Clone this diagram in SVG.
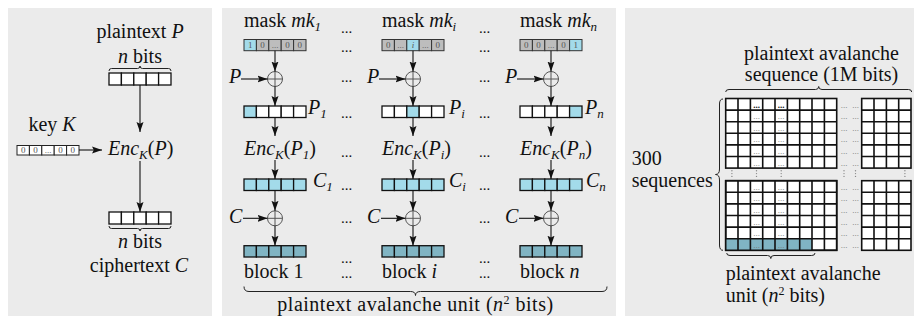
<svg xmlns="http://www.w3.org/2000/svg" width="922" height="322" viewBox="0 0 922 322">
<style>
.panel{fill:#ebebeb}
.t{font-family:"Liberation Serif",serif;font-size:20px;fill:#111}
.e{font-family:"Liberation Serif",serif;font-size:15px;fill:#111;text-anchor:middle}
.m{text-anchor:middle}
.i{font-style:italic}
.sub{font-size:13px;font-style:italic}
.sup{font-size:12px}
.cell{fill:#fff;stroke:#111;stroke-width:1.3}
.mc{fill:#bdbdbd;stroke:#333;stroke-width:1}
.kc{fill:#fff;stroke:#222;stroke-width:1}
.blue{fill:#a3dbea;stroke:#111;stroke-width:1.3}
.blue2{fill:#a3dbea;stroke:#333;stroke-width:1}
.teal{fill:#80b4c3;stroke:#111;stroke-width:1.3}
.dg{font-family:"Liberation Serif",serif;font-size:9px;fill:#555;text-anchor:middle}
.arr{stroke:#111;stroke-width:1.1;fill:none;marker-end:url(#ah)}
.brace{fill:none;stroke:#222;stroke-width:1}
.xor{fill:none;stroke:#555;stroke-width:1}
.grid{fill:#fff;stroke:#111;stroke-width:1.6}
.gl{fill:none;stroke:#111;stroke-width:1.6}
.gd{font-family:"Liberation Serif",serif;font-size:9px;fill:#777;text-anchor:middle}
.gdb{font-family:"Liberation Serif",serif;font-size:9px;fill:#111;font-weight:bold;text-anchor:middle}
.vd{fill:#888}
</style>
<defs>
<marker id="ah" viewBox="0 0 10 8" refX="10" refY="4" markerWidth="10" markerHeight="8" markerUnits="userSpaceOnUse" orient="auto"><path d="M0,0.5 L10,4 L0,7.5 L1.8,4 z" fill="#111"/></marker>
</defs>

<!-- panels -->
<rect class="panel" x="8" y="8" width="204" height="308"/>
<rect class="panel" x="222" y="8" width="394" height="308"/>
<rect class="panel" x="625" y="8" width="289" height="308"/>

<!-- ===== single block encryption ===== -->
<g id="plaintext">
<text class="t m" x="140" y="38">plaintext <tspan class="i">P</tspan></text>
<text class="t m" x="140" y="63"><tspan class="i">n</tspan> bits</text>
<path class="brace" d="M109,71 Q109,68.5 111.5,68.5 L137.5,68.5 Q140,68.5 140,66 Q140,68.5 142.5,68.5 L168.5,68.5 Q171,68.5 171,71"/>
<rect class="cell" x="109" y="73" width="12.4" height="12"/><rect class="cell" x="121.4" y="73" width="12.4" height="12"/><rect class="cell" x="133.8" y="73" width="12.4" height="12"/><rect class="cell" x="146.2" y="73" width="12.4" height="12"/><rect class="cell" x="158.6" y="73" width="12.4" height="12"/>
</g>
<g id="key">
<text class="t m" x="52" y="131">key <tspan class="i">K</tspan></text>
<rect class="kc" x="17" y="145.5" width="12.4" height="9.5"/><rect class="kc" x="29.4" y="145.5" width="12.4" height="9.5"/><rect class="kc" x="41.8" y="145.5" width="12.4" height="9.5"/><rect class="kc" x="54.2" y="145.5" width="12.4" height="9.5"/><rect class="kc" x="66.6" y="145.5" width="12.4" height="9.5"/>
<text class="dg" x="23.2" y="153.3">0</text><text class="dg" x="35.6" y="153.3">0</text><text class="dg" x="48" y="153.3">...</text><text class="dg" x="60.4" y="153.3">0</text><text class="dg" x="72.8" y="153.3">0</text>
</g>
<g id="enc">
<text class="t" x="108" y="155"><tspan class="i">Enc</tspan><tspan class="sub" dy="4">K</tspan><tspan dy="-4">(</tspan><tspan class="i">P</tspan>)</text>
</g>
<g id="ciphertext">
<rect class="cell" x="109" y="212" width="12.4" height="12"/><rect class="cell" x="121.4" y="212" width="12.4" height="12"/><rect class="cell" x="133.8" y="212" width="12.4" height="12"/><rect class="cell" x="146.2" y="212" width="12.4" height="12"/><rect class="cell" x="158.6" y="212" width="12.4" height="12"/>
<path class="brace" d="M109,226 Q109,228.5 111.5,228.5 L137.5,228.5 Q140,228.5 140,231 Q140,228.5 142.5,228.5 L168.5,228.5 Q171,228.5 171,226"/>
<text class="t m" x="140" y="248"><tspan class="i">n</tspan> bits</text>
<text class="t m" x="139" y="272">ciphertext <tspan class="i">C</tspan></text>
</g>

<!-- ===== avalanche unit: column 1 ===== -->
<g id="mask1">
<text class="t" x="244" y="27">mask <tspan class="i">mk</tspan><tspan class="sub" dy="4">1</tspan></text>
<rect class="blue2" x="244" y="39.5" width="12.4" height="11.2"/><rect class="mc" x="256.4" y="39.5" width="12.4" height="11.2"/><rect class="mc" x="268.8" y="39.5" width="12.4" height="11.2"/><rect class="mc" x="281.2" y="39.5" width="12.4" height="11.2"/><rect class="mc" x="293.6" y="39.5" width="12.4" height="11.2"/>
<text class="dg" x="250.2" y="48.3">1</text><text class="dg" x="262.6" y="48.3">0</text><text class="dg" x="275" y="48.3">...</text><text class="dg" x="287.4" y="48.3">0</text><text class="dg" x="299.8" y="48.3">0</text>
</g>
<g id="xorp1">
<circle class="xor" cx="275" cy="79" r="7.5"/><path class="xor" d="M267.5,79H282.5M275,71.5V86.5"/>
<text class="t" x="229" y="83"><tspan class="i">P</tspan></text>
</g>
<g id="p1">
<rect class="blue" x="244" y="106" width="12.4" height="11.5"/><rect class="cell" x="256.4" y="106" width="12.4" height="11.5"/><rect class="cell" x="268.8" y="106" width="12.4" height="11.5"/><rect class="cell" x="281.2" y="106" width="12.4" height="11.5"/><rect class="cell" x="293.6" y="106" width="12.4" height="11.5"/>
<text class="t" x="308" y="114"><tspan class="i">P</tspan><tspan class="sub" dy="4">1</tspan></text>
</g>
<g id="enc1">
<text class="t" x="244" y="155"><tspan class="i">Enc</tspan><tspan class="sub" dy="4">K</tspan><tspan dy="-4">(</tspan><tspan class="i">P</tspan><tspan class="sub" dy="4">1</tspan><tspan dy="-4">)</tspan></text>
</g>
<g id="c1">
<rect class="blue" x="244" y="179" width="12.4" height="11.5"/><rect class="blue" x="256.4" y="179" width="12.4" height="11.5"/><rect class="blue" x="268.8" y="179" width="12.4" height="11.5"/><rect class="blue" x="281.2" y="179" width="12.4" height="11.5"/><rect class="blue" x="293.6" y="179" width="12.4" height="11.5"/>
<text class="t" x="313" y="187"><tspan class="i">C</tspan><tspan class="sub" dy="4">1</tspan></text>
</g>
<g id="xorc1">
<circle class="xor" cx="275" cy="218.3" r="7.5"/><path class="xor" d="M267.5,218.3H282.5M275,210.8V225.8"/>
<text class="t" x="229" y="223"><tspan class="i">C</tspan></text>
</g>
<g id="block1">
<rect class="teal" x="244" y="245.7" width="12.4" height="11.3"/><rect class="teal" x="256.4" y="245.7" width="12.4" height="11.3"/><rect class="teal" x="268.8" y="245.7" width="12.4" height="11.3"/><rect class="teal" x="281.2" y="245.7" width="12.4" height="11.3"/><rect class="teal" x="293.6" y="245.7" width="12.4" height="11.3"/>
<text class="t" x="244" y="278">block 1</text>
</g>

<!-- column i -->
<g id="maski">
<text class="t" x="382" y="27">mask <tspan class="i">mk</tspan><tspan class="sub" dy="4">i</tspan></text>
<rect class="mc" x="382" y="39.5" width="12.4" height="11.2"/><rect class="mc" x="394.4" y="39.5" width="12.4" height="11.2"/><rect class="blue2" x="406.8" y="39.5" width="12.4" height="11.2"/><rect class="mc" x="419.2" y="39.5" width="12.4" height="11.2"/><rect class="mc" x="431.6" y="39.5" width="12.4" height="11.2"/>
<text class="dg" x="388.2" y="48.3">0</text><text class="dg" x="400.6" y="48.3">...</text><text class="dg" x="413" y="48.3" font-style="italic">i</text><text class="dg" x="425.4" y="48.3">...</text><text class="dg" x="437.8" y="48.3">0</text>
</g>
<g id="xorpi">
<circle class="xor" cx="413" cy="79" r="7.5"/><path class="xor" d="M405.5,79H420.5M413,71.5V86.5"/>
<text class="t" x="367" y="83"><tspan class="i">P</tspan></text>
</g>
<g id="pi">
<rect class="cell" x="382" y="106" width="12.4" height="11.5"/><rect class="cell" x="394.4" y="106" width="12.4" height="11.5"/><rect class="blue" x="406.8" y="106" width="12.4" height="11.5"/><rect class="cell" x="419.2" y="106" width="12.4" height="11.5"/><rect class="cell" x="431.6" y="106" width="12.4" height="11.5"/>
<text class="t" x="449" y="114"><tspan class="i">P</tspan><tspan class="sub" dy="4">i</tspan></text>
</g>
<g id="enci">
<text class="t" x="382" y="155"><tspan class="i">Enc</tspan><tspan class="sub" dy="4">K</tspan><tspan dy="-4">(</tspan><tspan class="i">P</tspan><tspan class="sub" dy="4">i</tspan><tspan dy="-4">)</tspan></text>
</g>
<g id="ci">
<rect class="blue" x="382" y="179" width="12.4" height="11.5"/><rect class="blue" x="394.4" y="179" width="12.4" height="11.5"/><rect class="blue" x="406.8" y="179" width="12.4" height="11.5"/><rect class="blue" x="419.2" y="179" width="12.4" height="11.5"/><rect class="blue" x="431.6" y="179" width="12.4" height="11.5"/>
<text class="t" x="449" y="187"><tspan class="i">C</tspan><tspan class="sub" dy="4">i</tspan></text>
</g>
<g id="xorci">
<circle class="xor" cx="413" cy="218.3" r="7.5"/><path class="xor" d="M405.5,218.3H420.5M413,210.8V225.8"/>
<text class="t" x="367" y="223"><tspan class="i">C</tspan></text>
</g>
<g id="blocki">
<rect class="teal" x="382" y="245.7" width="12.4" height="11.3"/><rect class="teal" x="394.4" y="245.7" width="12.4" height="11.3"/><rect class="teal" x="406.8" y="245.7" width="12.4" height="11.3"/><rect class="teal" x="419.2" y="245.7" width="12.4" height="11.3"/><rect class="teal" x="431.6" y="245.7" width="12.4" height="11.3"/>
<text class="t" x="382" y="278">block <tspan class="i">i</tspan></text>
</g>

<!-- column n -->
<g id="maskn">
<text class="t" x="520" y="27">mask <tspan class="i">mk</tspan><tspan class="sub" dy="4">n</tspan></text>
<rect class="mc" x="520" y="39.5" width="12.4" height="11.2"/><rect class="mc" x="532.4" y="39.5" width="12.4" height="11.2"/><rect class="mc" x="544.8" y="39.5" width="12.4" height="11.2"/><rect class="mc" x="557.2" y="39.5" width="12.4" height="11.2"/><rect class="blue2" x="569.6" y="39.5" width="12.4" height="11.2"/>
<text class="dg" x="526.2" y="48.3">0</text><text class="dg" x="538.6" y="48.3">0</text><text class="dg" x="551" y="48.3">...</text><text class="dg" x="563.4" y="48.3">0</text><text class="dg" x="575.8" y="48.3">1</text>
</g>
<g id="xorpn">
<circle class="xor" cx="551" cy="79" r="7.5"/><path class="xor" d="M543.5,79H558.5M551,71.5V86.5"/>
<text class="t" x="505" y="83"><tspan class="i">P</tspan></text>
</g>
<g id="pn">
<rect class="cell" x="520" y="106" width="12.4" height="11.5"/><rect class="cell" x="532.4" y="106" width="12.4" height="11.5"/><rect class="cell" x="544.8" y="106" width="12.4" height="11.5"/><rect class="cell" x="557.2" y="106" width="12.4" height="11.5"/><rect class="blue" x="569.6" y="106" width="12.4" height="11.5"/>
<text class="t" x="585" y="114"><tspan class="i">P</tspan><tspan class="sub" dy="4">n</tspan></text>
</g>
<g id="encn">
<text class="t" x="520" y="155"><tspan class="i">Enc</tspan><tspan class="sub" dy="4">K</tspan><tspan dy="-4">(</tspan><tspan class="i">P</tspan><tspan class="sub" dy="4">n</tspan><tspan dy="-4">)</tspan></text>
</g>
<g id="cn">
<rect class="blue" x="520" y="179" width="12.4" height="11.5"/><rect class="blue" x="532.4" y="179" width="12.4" height="11.5"/><rect class="blue" x="544.8" y="179" width="12.4" height="11.5"/><rect class="blue" x="557.2" y="179" width="12.4" height="11.5"/><rect class="blue" x="569.6" y="179" width="12.4" height="11.5"/>
<text class="t" x="586" y="187"><tspan class="i">C</tspan><tspan class="sub" dy="4">n</tspan></text>
</g>
<g id="xorcn">
<circle class="xor" cx="551" cy="218.3" r="7.5"/><path class="xor" d="M543.5,218.3H558.5M551,210.8V225.8"/>
<text class="t" x="505" y="223"><tspan class="i">C</tspan></text>
</g>
<g id="blockn">
<rect class="teal" x="520" y="245.7" width="12.4" height="11.3"/><rect class="teal" x="532.4" y="245.7" width="12.4" height="11.3"/><rect class="teal" x="544.8" y="245.7" width="12.4" height="11.3"/><rect class="teal" x="557.2" y="245.7" width="12.4" height="11.3"/><rect class="teal" x="569.6" y="245.7" width="12.4" height="11.3"/>
<text class="t" x="520" y="278">block <tspan class="i">n</tspan></text>
</g>

<!-- ellipses between columns -->
<g id="column-gaps">
<text class="e" x="346.5" y="33">...</text><text class="e" x="484.5" y="33">...</text>
<text class="e" x="346.5" y="51.5">...</text><text class="e" x="484.5" y="51.5">...</text>
<text class="e" x="346.5" y="82">...</text><text class="e" x="484.5" y="82">...</text>
<text class="e" x="346.5" y="118">...</text><text class="e" x="484.5" y="118">...</text>
<text class="e" x="346.5" y="157">...</text><text class="e" x="484.5" y="157">...</text>
<text class="e" x="346.5" y="190">...</text><text class="e" x="484.5" y="190">...</text>
<text class="e" x="346.5" y="222.5">...</text><text class="e" x="484.5" y="222.5">...</text>
<text class="e" x="346.5" y="263">...</text><text class="e" x="484.5" y="263">...</text>
<text class="e" x="346.5" y="278">...</text><text class="e" x="484.5" y="278">...</text>
</g>

<g id="unit-label">
<path class="brace" d="M244,286.5 Q244,291.5 249,291.5 L410.5,291.5 Q415.5,291.5 415.5,295.5 Q415.5,291.5 420.5,291.5 L602,291.5 Q607,291.5 607,286.5"/>
<text class="t m" x="415.5" y="311" letter-spacing="0.5">plaintext avalanche unit (<tspan class="i">n</tspan><tspan class="sup" dy="-7">2</tspan><tspan dy="7"> bits)</tspan></text>
</g>

<!-- ===== avalanche sequence grid ===== -->
<g id="sequence-label">
<text class="t m" x="821.5" y="59.5">plaintext avalanche</text>
<text class="t m" x="821.5" y="80.5">sequence (1M bits)</text>
<path class="brace" d="M725.7,92 Q725.7,89.5 729,89.5 L815.5,89.5 Q818.7,89.5 818.7,86.5 Q818.7,89.5 822,89.5 L908.5,89.5 Q911.7,89.5 911.7,92"/>
</g>
<g id="sequences-label">
<text class="t" x="631.7" y="165">300</text>
<text class="t" x="631.7" y="187">sequences</text>
<path class="brace" d="M723,99 Q719.5,99 719.5,104 L719.5,169 Q719.5,174.5 715.5,174.5 Q719.5,174.5 719.5,180 L719.5,245 Q719.5,250.3 723,250.3"/>
</g>
<g id="grid">
<rect class="grid" x="725.7" y="98.5" width="111" height="69.6"/>
<rect class="grid" x="861.7" y="98.5" width="49.3" height="69.6"/>
<rect class="grid" x="725.7" y="180.7" width="111" height="69.6"/>
<rect class="grid" x="861.7" y="180.7" width="49.3" height="69.6"/>
<rect x="725.7" y="238.7" width="86.3" height="11.6" fill="#80b4c3"/>
<path class="gl" d="M738,98.5V168.1M750.4,98.5V168.1M762.7,98.5V168.1M775,98.5V168.1M787.4,98.5V168.1M799.7,98.5V168.1M812,98.5V168.1M824.4,98.5V168.1
M725.7,110.1H836.7M725.7,121.7H836.7M725.7,133.3H836.7M725.7,144.9H836.7M725.7,156.5H836.7
M738,180.7V250.3M750.4,180.7V250.3M762.7,180.7V250.3M775,180.7V250.3M787.4,180.7V250.3M799.7,180.7V250.3M812,180.7V250.3M824.4,180.7V250.3
M725.7,192.3H836.7M725.7,203.9H836.7M725.7,215.5H836.7M725.7,227.1H836.7M725.7,238.7H836.7
M874,98.5V168.1M886.4,98.5V168.1M898.7,98.5V168.1
M861.7,110.1H911M861.7,121.7H911M861.7,133.3H911M861.7,144.9H911M861.7,156.5H911
M874,180.7V250.3M886.4,180.7V250.3M898.7,180.7V250.3
M861.7,192.3H911M861.7,203.9H911M861.7,215.5H911M861.7,227.1H911M861.7,238.7H911"/>
<rect class="gl" x="725.7" y="180.7" width="111" height="69.6"/>
<text class="gdb" y="107.5"><tspan x="756.5">...</tspan><tspan x="781.2">...</tspan></text>
<text class="gd" y="107.5"><tspan x="844">...</tspan><tspan x="855.5">...</tspan></text>
<text class="gd" y="119.1"><tspan x="756.5">...</tspan><tspan x="781.2">...</tspan><tspan x="844">...</tspan><tspan x="855.5">...</tspan></text>
<text class="gd" y="130.7"><tspan x="756.5">...</tspan><tspan x="781.2">...</tspan><tspan x="844">...</tspan><tspan x="855.5">...</tspan></text>
<text class="gd" y="142.3"><tspan x="756.5">...</tspan><tspan x="781.2">...</tspan><tspan x="844">...</tspan><tspan x="855.5">...</tspan></text>
<text class="gd" y="153.9"><tspan x="756.5">...</tspan><tspan x="781.2">...</tspan><tspan x="844">...</tspan><tspan x="855.5">...</tspan></text>
<text class="gd" y="165.5"><tspan x="756.5">...</tspan><tspan x="781.2">...</tspan><tspan x="844">...</tspan><tspan x="855.5">...</tspan></text>
<text class="gd" y="189.7"><tspan x="756.5">...</tspan><tspan x="781.2">...</tspan><tspan x="844">...</tspan><tspan x="855.5">...</tspan></text>
<text class="gd" y="201.3"><tspan x="756.5">...</tspan><tspan x="781.2">...</tspan><tspan x="844">...</tspan><tspan x="855.5">...</tspan></text>
<text class="gd" y="212.9"><tspan x="756.5">...</tspan><tspan x="781.2">...</tspan><tspan x="844">...</tspan><tspan x="855.5">...</tspan></text>
<text class="gd" y="224.5"><tspan x="756.5">...</tspan><tspan x="781.2">...</tspan><tspan x="844">...</tspan><tspan x="855.5">...</tspan></text>
<text class="gd" y="236.1"><tspan x="756.5">...</tspan><tspan x="781.2">...</tspan><tspan x="844">...</tspan><tspan x="855.5">...</tspan></text>
<text class="gd" y="247.7"><tspan x="756.5">...</tspan><tspan x="781.2">...</tspan><tspan x="844">...</tspan><tspan x="855.5">...</tspan></text>
<!-- vertical ellipses between the two row blocks -->
<g class="vd">
<circle cx="731.9" cy="170.8" r="0.7"/><circle cx="731.9" cy="173.6" r="0.7"/><circle cx="731.9" cy="176.4" r="0.7"/>
<circle cx="756.5" cy="170.8" r="0.7"/><circle cx="756.5" cy="173.6" r="0.7"/><circle cx="756.5" cy="176.4" r="0.7"/>
<circle cx="781.2" cy="170.8" r="0.7"/><circle cx="781.2" cy="173.6" r="0.7"/><circle cx="781.2" cy="176.4" r="0.7"/>
<circle cx="844" cy="170.8" r="0.7"/><circle cx="844" cy="173.6" r="0.7"/><circle cx="844" cy="176.4" r="0.7"/>
<circle cx="855.5" cy="170.8" r="0.7"/><circle cx="855.5" cy="173.6" r="0.7"/><circle cx="855.5" cy="176.4" r="0.7"/>
<circle cx="904.9" cy="170.8" r="0.7"/><circle cx="904.9" cy="173.6" r="0.7"/><circle cx="904.9" cy="176.4" r="0.7"/>
</g>
</g>
<g id="unit-in-grid-label">
<path class="brace" d="M726.7,253 Q726.7,255.5 730,255.5 L767.5,255.5 Q770.8,255.5 770.8,258.5 Q770.8,255.5 774,255.5 L811.7,255.5 Q815,255.5 815,253"/>
<text class="t" x="725.7" y="280">plaintext avalanche</text>
<text class="t" x="725.7" y="302">unit (<tspan class="i">n</tspan><tspan class="sup" dy="-7">2</tspan><tspan dy="7"> bits)</tspan></text>
</g>

<!-- connectors -->
<g id="connectors">
<path class="arr" d="M140,85V132"/>
<path class="arr" d="M79,150H102"/>
<path class="arr" d="M140,161V212"/>
<path class="arr" d="M275,50.7V71.5"/><path class="arr" d="M241,79H267.5"/><path class="arr" d="M275,86.5V106"/><path class="arr" d="M275,117.5V136"/><path class="arr" d="M275,160V179"/><path class="arr" d="M275,190.5V210.8"/><path class="arr" d="M243,218.3H267.5"/><path class="arr" d="M275,225.8V245.7"/>
<path class="arr" d="M413,50.7V71.5"/><path class="arr" d="M379,79H405.5"/><path class="arr" d="M413,86.5V106"/><path class="arr" d="M413,117.5V136"/><path class="arr" d="M413,160V179"/><path class="arr" d="M413,190.5V210.8"/><path class="arr" d="M381,218.3H405.5"/><path class="arr" d="M413,225.8V245.7"/>
<path class="arr" d="M551,50.7V71.5"/><path class="arr" d="M517,79H543.5"/><path class="arr" d="M551,86.5V106"/><path class="arr" d="M551,117.5V136"/><path class="arr" d="M551,160V179"/><path class="arr" d="M551,190.5V210.8"/><path class="arr" d="M519,218.3H543.5"/><path class="arr" d="M551,225.8V245.7"/>
</g>
</svg>
